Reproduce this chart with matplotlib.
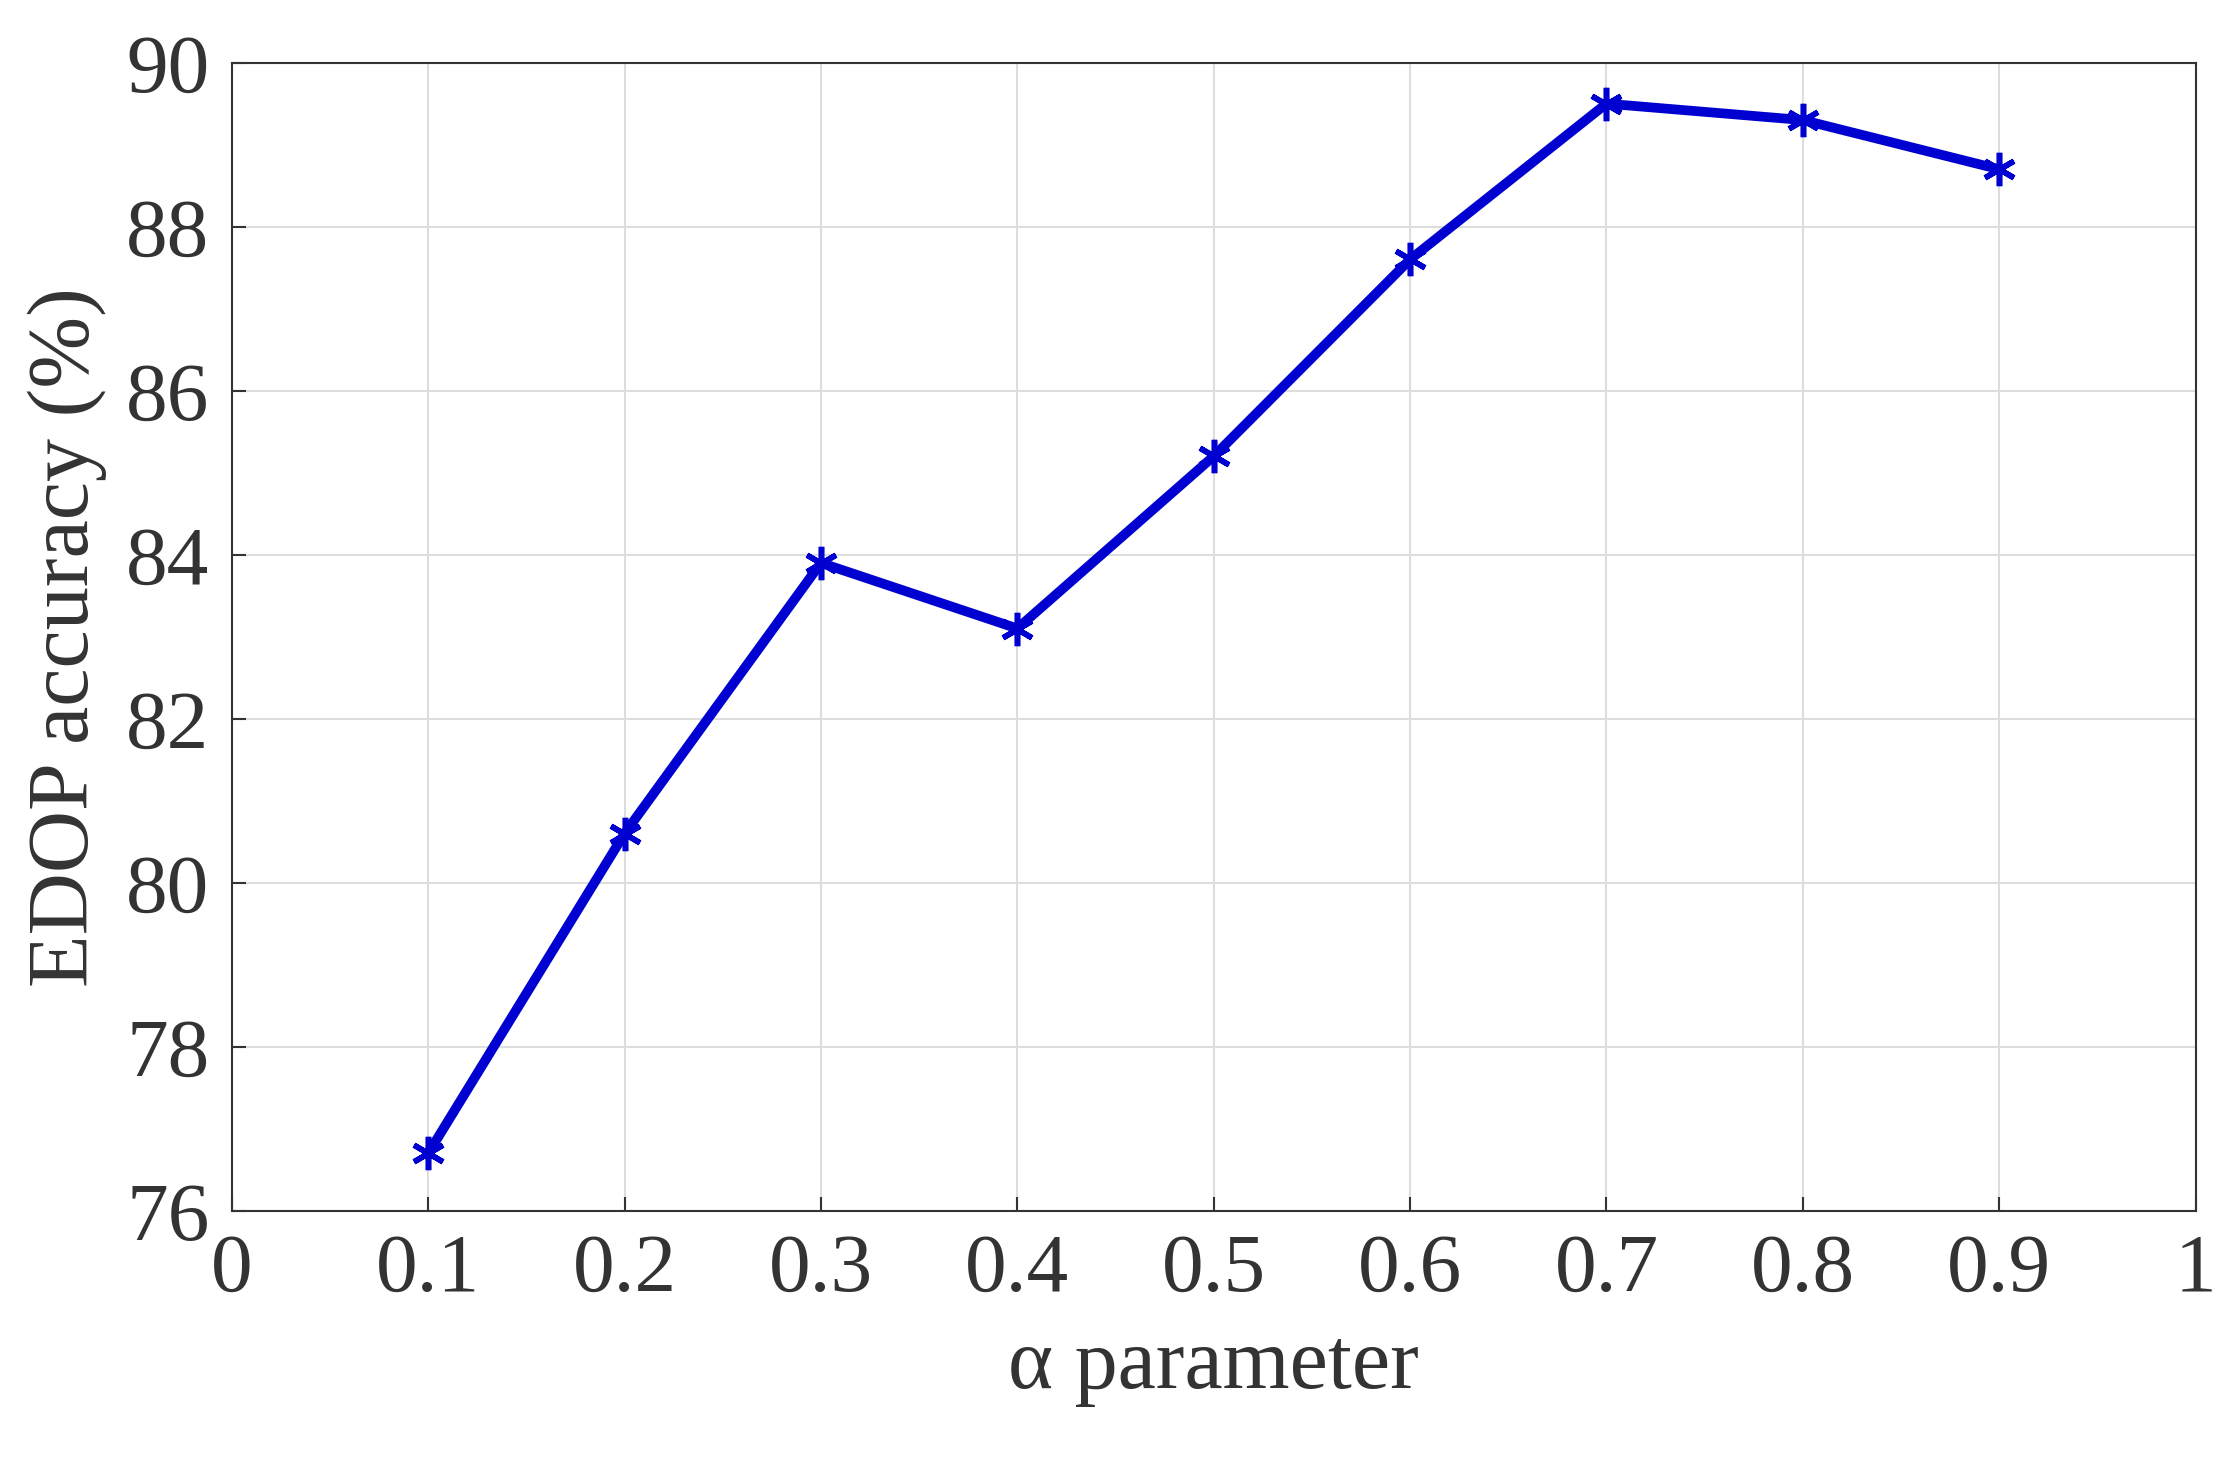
import matplotlib
matplotlib.use("Agg")
import matplotlib.pyplot as plt

alpha = [0.1, 0.2, 0.3, 0.4, 0.5, 0.6, 0.7, 0.8, 0.9]
accuracy = [76.7, 80.6, 83.9, 83.1, 85.2, 87.6, 89.5, 89.3, 88.7]
xticks = [0, 0.1, 0.2, 0.3, 0.4, 0.5, 0.6, 0.7, 0.8, 0.9, 1]
xticklabels = ["0", "0.1", "0.2", "0.3", "0.4", "0.5", "0.6", "0.7", "0.8", "0.9", "1"]
yticks = [76, 78, 80, 82, 84, 86, 88, 90]

plt.rcParams['font.family'] = ['Liberation Serif', 'DejaVu Serif']
fig = plt.figure(figsize=(22.29, 14.57), dpi=100)
ax = fig.add_axes([0.104, 0.169, 0.881, 0.788])
ax.plot(alpha, accuracy, color='#0000d0', lw=7, marker=(6, 2, 0), ms=24, mew=4)
ax.set_xlim(0, 1)
ax.set_ylim(76, 90)
ax.set_xticks(xticks)
ax.set_xticklabels(xticklabels)
ax.set_yticks(yticks)
ax.grid(True, color='#dddddd', lw=1.5)
ax.tick_params(labelsize=60, direction='in', length=10, width=1.5, pad=16, colors='#333333')
for s in ax.spines.values():
    s.set_color('#333333'); s.set_linewidth(1.5)
ax.set_xlabel('α parameter', fontsize=62, color='#333333', labelpad=14)
ax.set_ylabel('EDOP accuracy (%)', fontsize=62, color='#333333', labelpad=14)
fig.savefig('out.png', dpi=100)
